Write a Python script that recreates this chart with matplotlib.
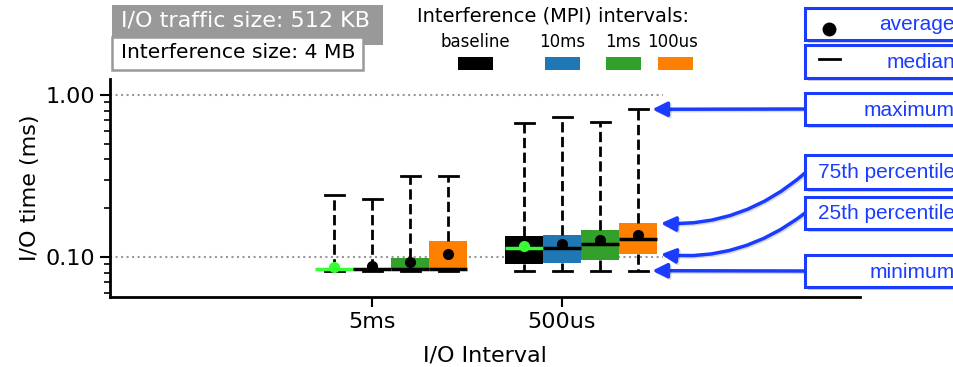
import matplotlib
matplotlib.use('Agg')
import matplotlib.pyplot as plt
import matplotlib.patheffects as pe
from matplotlib.patches import Rectangle
from matplotlib.lines import Line2D
from matplotlib.ticker import FixedLocator, FormatStrFormatter, LogLocator, NullFormatter

W, H = 954, 367

# ---- data ----
io_intervals = ['5ms', '500us']
series = ['baseline', '10ms', '1ms', '100us']
box_colors = ['#000000', '#1f78b4', '#33a02c', '#ff7f00']
median_colors = ['#33ff33', '#000000', '#000000', '#000000']

# rows: series, columns: I/O interval
t_min = [[0.0823, 0.0823], [0.0823, 0.0823], [0.0823, 0.0823], [0.0823, 0.0823]]
t_q1 = [[0.0838, 0.0905], [0.0836, 0.0914], [0.0843, 0.0958], [0.0843, 0.1039]]
t_med = [[0.0838, 0.1130], [0.0839, 0.1140], [0.0843, 0.1203], [0.0843, 0.1286]]
t_q3 = [[0.0838, 0.1348], [0.0842, 0.1367], [0.0980, 0.1468], [0.1260, 0.1614]]
t_max = [[0.2415, 0.669], [0.228, 0.730], [0.316, 0.680], [0.318, 0.816]]
t_mean = [[0.0871, 0.1174], [0.0880, 0.1198], [0.0936, 0.1273], [0.1043, 0.1367]]

legend_title = 'Interference (MPI) intervals:'
info_top = 'I/O traffic size: 512 KB'
info_bottom = 'Interference size: 4 MB'

fig = plt.figure(figsize=(W / 100, H / 100), dpi=100)
ax = fig.add_axes([110 / W, 1 - 297 / H, 750 / W, (297 - 79) / H])

bw = 0.2
for j, name in enumerate(series):
    stats = []
    pos = []
    for i in range(len(io_intervals)):
        stats.append(dict(whislo=t_min[j][i], q1=t_q1[j][i], med=t_med[j][i],
                          q3=t_q3[j][i], whishi=t_max[j][i], mean=t_mean[j][i],
                          fliers=[]))
        pos.append(i + (j - 1) * bw)
    c = box_colors[j]
    mc = median_colors[j]
    ax.bxp(stats, positions=pos, widths=bw, patch_artist=True, showmeans=True,
           showfliers=False, capwidths=bw * 0.5, manage_ticks=False,
           boxprops=dict(facecolor=c, edgecolor=c, linewidth=0),
           medianprops=dict(color=mc, linewidth=2.5, solid_capstyle='butt'),
           meanprops=dict(marker='o', markerfacecolor=mc, markeredgecolor=mc, markersize=7),
           whiskerprops=dict(color='black', linestyle='--', linewidth=2),
           capprops=dict(color='black', linewidth=2))

ax.set_yscale('log')
ax.set_ylim(0.0566, 1.255)
ax.set_xlim(-1.379, 2.568)
ax.yaxis.set_major_locator(FixedLocator([0.1, 1.0]))
ax.yaxis.set_major_formatter(FormatStrFormatter('%.2f'))
ax.yaxis.set_minor_locator(LogLocator(base=10, subs=range(2, 10)))
ax.yaxis.set_minor_formatter(NullFormatter())
ax.set_xticks(range(len(io_intervals)))
ax.set_xticklabels(io_intervals)
ax.tick_params(axis='both', which='major', labelsize=16, length=7, width=1.5)
ax.tick_params(axis='y', which='minor', length=4, width=1.2)
for s in ['top', 'right']:
    ax.spines[s].set_visible(False)
for s in ['left', 'bottom']:
    ax.spines[s].set_linewidth(2)
ax.set_ylabel('I/O time (ms)', fontsize=16)
ax.set_xlabel('I/O Interval', fontsize=16, labelpad=10)
for yv in [0.1, 1.0]:
    ax.axhline(yv, xmin=0, xmax=0.737, color='#999999', ls=':', lw=1.5, zorder=0)

# ---- info boxes ----
fig.add_artist(Rectangle((112 / W, 1 - 45 / H), 271 / W, 40 / H, transform=fig.transFigure,
                         fc='#999999', ec='none'))
fig.add_artist(Rectangle((112 / W, 1 - 70 / H), 251 / W, 33 / H, transform=fig.transFigure,
                         fc='white', ec='#999999', lw=1.8))
fig.text(121 / W, 1 - 21 / H, info_top, ha='left', va='center', fontsize=16, color='white')
fig.text(121 / W, 1 - 52 / H, info_bottom, ha='left', va='center', fontsize=14.6, color='black')

# ---- legend ----
fig.text(553 / W, 1 - 16 / H, legend_title, ha='center', va='center', fontsize=14)
leg_label_x = [475, 562, 623, 673]
leg_patch_x = [476, 562, 624, 675]
for j, name in enumerate(series):
    fig.text(leg_label_x[j] / W, 1 - 42 / H, name, ha='center', va='center', fontsize=12)
    fig.add_artist(Rectangle(((leg_patch_x[j] - 17.5) / W, 1 - 70 / H), 35 / W, 13 / H,
                             transform=fig.transFigure, fc=box_colors[j], ec='none'))

# ---- annotation boxes ----
blue = '#1a3cff'
shadow = [pe.SimplePatchShadow(offset=(2, -2), shadow_rgbFace='#888888', alpha=0.4), pe.Normal()]
ann_boxes = [('average', 8, 40), ('median', 45, 78), ('maximum', 93, 125),
             ('75th percentile', 155, 189), ('25th percentile', 197, 229), ('minimum', 255, 287)]
for label, y0, y1 in ann_boxes:
    r = Rectangle((805 / W, 1 - y1 / H), 200 / W, (y1 - y0) / H, transform=fig.transFigure,
                  fc='white', ec=blue, lw=2.2, path_effects=shadow)
    fig.add_artist(r)
    fig.text(955 / W, 1 - ((y0 + y1) / 2 + 1) / H, label, ha='right', va='center', fontsize=15,
             color=blue, family='Liberation Sans')
fig.add_artist(Line2D([829 / W], [1 - 29 / H], marker='o', color='black', markersize=9,
                      transform=fig.transFigure))
fig.add_artist(Line2D([819 / W, 840 / W], [1 - 59 / H, 1 - 59 / H], color='black', lw=2,
                      transform=fig.transFigure))

# ---- arrows to the 100us / 500us box ----
jx = 3
ix = 1
xc = ix + (jx - 1) * bw
arrows = [((xc + bw * 0.25 + 0.025, t_max[jx][ix]), (805, H - 109), 0.0),
          ((xc + bw * 0.5 + 0.02, t_q3[jx][ix]), (805, H - 173), -0.2),
          ((xc + bw * 0.5 + 0.02, t_q1[jx][ix]), (805, H - 213), -0.2),
          ((xc + bw * 0.25 + 0.025, t_min[jx][ix]), (805, H - 271), 0.0)]
for xy, xyt, rad in arrows:
    ax.annotate('', xy=xy, xycoords='data', xytext=xyt, textcoords='figure pixels',
                annotation_clip=False,
                arrowprops=dict(arrowstyle='-|>', color=blue, lw=2.5, mutation_scale=22,
                                shrinkA=0, shrinkB=0, connectionstyle=f'arc3,rad={rad}',
                                path_effects=[pe.SimpleLineShadow(offset=(1, -1), alpha=0.15),
                                              pe.Normal()]))

fig.savefig('out.png', dpi=100)
